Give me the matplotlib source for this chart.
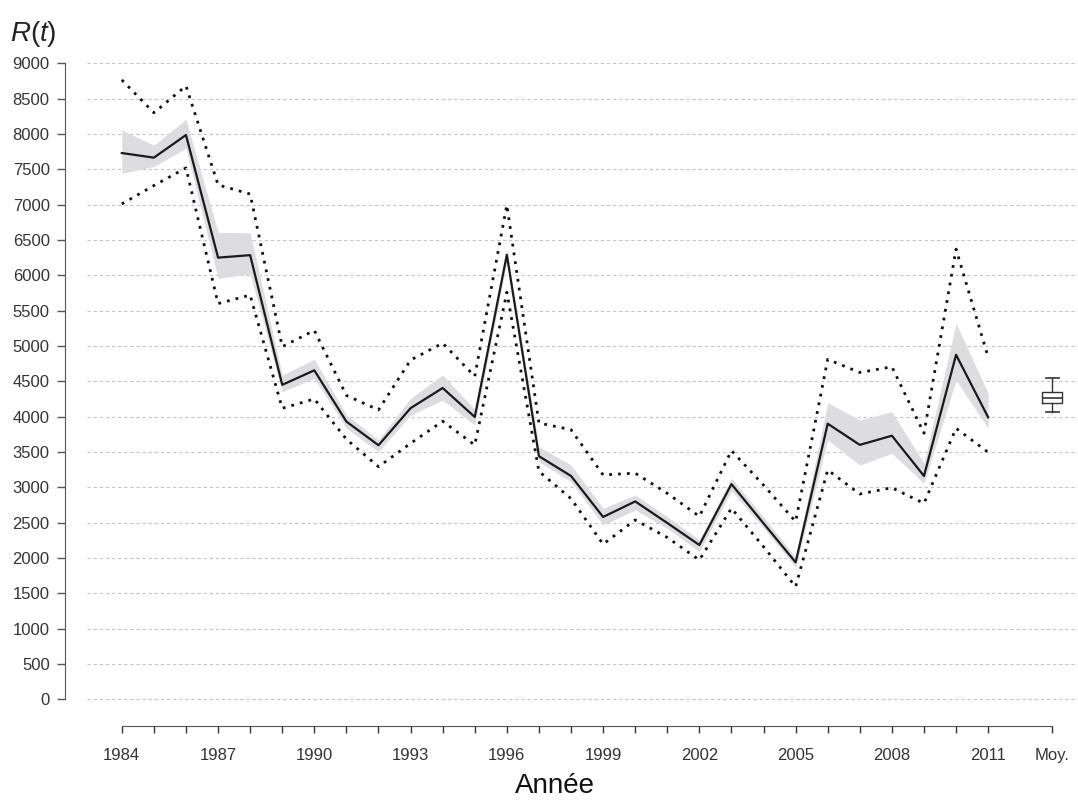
import matplotlib.pyplot as plt
import numpy as np

plt.rcParams['font.family'] = ['Liberation Sans', 'DejaVu Sans']
plt.rcParams['mathtext.fontset'] = 'custom'
plt.rcParams['mathtext.rm'] = 'Liberation Sans'
plt.rcParams['mathtext.it'] = 'Liberation Sans:italic'

# data
years = list(range(1984, 2012))
r_mean = [7730, 7665, 7985, 6250, 6285, 4450, 4655, 3930, 3595, 4120, 4405, 3995, 6290, 3440,
          3160, 2580, 2800, 2495, 2183, 3045, 2490, 1938, 3900, 3600, 3730, 3160, 4875, 3990]
band_hi = [8056, 7840, 8207, 6608, 6600, 4590, 4810, 4025, 3670, 4260, 4590, 4100, 6360, 3575,
           3315, 2703, 2890, 2585, 2255, 3130, 2580, 2010, 4197, 3952, 4070, 3340, 5320, 4330]
band_lo = [7443, 7540, 7797, 5957, 6020, 4353, 4542, 3835, 3504, 4023, 4235, 3880, 6200, 3362,
           3080, 2466, 2680, 2420, 2090, 2950, 2420, 1870, 3669, 3315, 3481, 3056, 4518, 3835]
dot_hi = [8765, 8300, 8680, 7280, 7150, 4990, 5220, 4300, 4095, 4800, 5040, 4570, 6995, 3910,
          3815, 3175, 3200, 2915, 2588, 3520, 3030, 2515, 4810, 4625, 4705, 3765, 6370, 4840]
dot_lo = [7010, 7270, 7520, 5600, 5720, 4118, 4250, 3680, 3291, 3622, 3935, 3598, 5760, 3225,
          2840, 2195, 2537, 2290, 1971, 2703, 2159, 1593, 3245, 2905, 2994, 2773, 3835, 3495]

# boxplot "Moy."
moy_stats = {'med': 4265, 'q1': 4188, 'q3': 4353, 'whislo': 4070, 'whishi': 4542}

tick_labels = ['1984', '1987', '1990', '1993', '1996', '1999', '2002', '2005', '2008', '2011']

fig = plt.figure(figsize=(10.78, 8.01), dpi=100)
ax = fig.add_axes([65 / 1078, 1 - 726 / 801, 1 - 65 / 1078, (726 - 63.3) / 801])

x = np.arange(len(years))
ax.fill_between(x, band_lo, band_hi, color='#dcdce1', lw=0, zorder=1)
ax.plot(x, r_mean, color='#1a1a1a', lw=1.6, zorder=3)
ax.plot(x, dot_hi, color='#111111', lw=2, linestyle=(0, (1, 2.2)), zorder=2)
ax.plot(x, dot_lo, color='#111111', lw=2, linestyle=(0, (1, 2.2)), zorder=2)

moy_pos = len(years) + 1
ax.bxp([moy_stats], positions=[moy_pos], widths=0.62, capwidths=0.4,
       showfliers=False, patch_artist=False,
       boxprops=dict(color='#333333', lw=1),
       medianprops=dict(color='#333333', lw=1.2),
       whiskerprops=dict(color='#333333', lw=1),
       capprops=dict(color='#333333', lw=1.2))

# horizontal dashed grid
yt = np.arange(0, 9001, 500)
ax.hlines(yt, -1.08, 30, colors='#c4c4c4', lw=0.8, linestyles=(0, (3, 2.5)), zorder=0)

ax.set_xlim(-1.77, 29.8)
ax.set_ylim(-378, 9000)

for s in ['top', 'right']:
    ax.spines[s].set_visible(False)
ax.spines['left'].set_bounds(0, 9000)
ax.spines['bottom'].set_bounds(0, moy_pos)
ax.spines['left'].set_color('#555555')
ax.spines['bottom'].set_color('#555555')

ax.set_yticks(yt)
ax.set_yticklabels([str(v) for v in yt])
ax.tick_params(axis='y', length=6, width=1, color='#555555', labelsize=12,
               labelcolor='#333333', pad=5)

xt = list(x) + [moy_pos]
xl = [str(y) if str(y) in tick_labels else '' for y in years] + ['Moy.']
ax.set_xticks(xt)
ax.set_xticklabels(xl)
ax.tick_params(axis='x', length=5, width=1, color='#333333', labelsize=12,
               labelcolor='#333333', pad=11)

fig.text(10 / 1078, 1 - 41 / 801, r'$R(t)$', fontsize=20, color='#222222', va='baseline')
fig.text(555 / 1078, 1 - 793 / 801, 'Année', fontsize=20, color='#111111',
         ha='center', va='baseline')

fig.savefig('out.png', dpi=100)
